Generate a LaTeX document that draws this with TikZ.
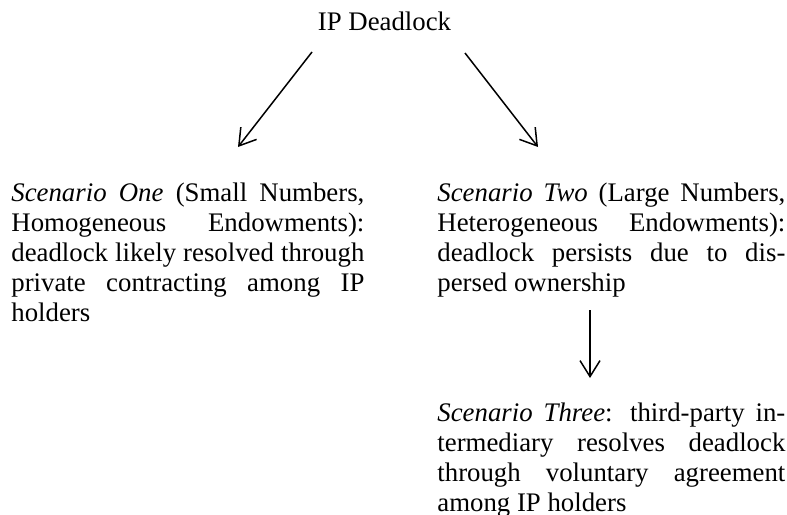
\documentclass[tikz,border=0pt]{standalone}
\usepackage{fontspec}
\setmainfont{Liberation Serif}
\usetikzlibrary{arrows.meta}
\newcommand\jline[2]{\makebox[#1][s]{#2}}
\begin{document}
\begin{tikzpicture}[x=0.5pt,y=-0.5pt,
  arr/.style={-{Straight Barb[length=8pt,width=10pt]}, line width=0.75pt},
  blk/.style={anchor=north west, inner sep=0pt, align=left, font=\fontsize{13.4}{15}\selectfont},
  ttl/.style={anchor=base, inner sep=0pt, font=\fontsize{13.4}{15}\selectfont}]
\useasboundingbox (0,0) rectangle (787,514);
\node[ttl] (t) at (384.5,31) {IP Deadlock};
\node[blk] (s1) at (11,183) {%
\jline{176.5pt}{\textit{Scenario One} (Small Numbers,}\\
\jline{176.5pt}{Homogeneous Endowments):}\\
\jline{176.5pt}{deadlock likely resolved through}\\
\jline{176.5pt}{private contracting among IP}\\
holders};
\node[blk] (s2) at (437,183) {%
\jline{174pt}{\textit{Scenario Two} (Large Numbers,}\\
\jline{174pt}{Heterogeneous Endowments):}\\
\jline{174pt}{deadlock persists due to dis-}\\
persed ownership};
\node[blk] (s3) at (437,402) {%
\jline{174pt}{\textit{Scenario Three}: third-party in-}\\
\jline{174pt}{termediary resolves deadlock}\\
\jline{174pt}{through voluntary agreement}\\
among IP holders};
\coordinate (a1s) at (312,52);
\coordinate (a1e) at (238,147);
\coordinate (a2s) at (465,53);
\coordinate (a2e) at (538,147);
\coordinate (a3s) at (590,310);
\coordinate (a3e) at (590,378);
\draw[arr] (a1s) -- (a1e);
\draw[arr] (a2s) -- (a2e);
\draw[arr] (a3s) -- (a3e);
\end{tikzpicture}
\end{document}
